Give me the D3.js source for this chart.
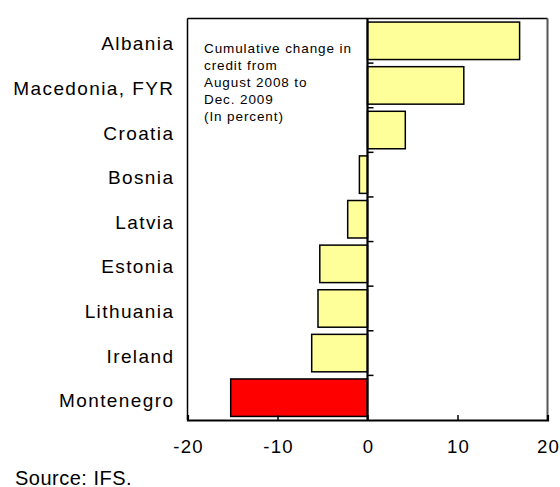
<!DOCTYPE html>
<html><head><meta charset="utf-8">
<script src="https://cdn.jsdelivr.net/npm/d3@7"></script>
<style>body{margin:0;background:#fff}svg{display:block}text{font-family:"Liberation Sans",Arial,sans-serif}</style>
</head><body><svg id="c" width="560" height="487"></svg>
<script>
const categories = ["Albania","Macedonia, FYR","Croatia","Bosnia","Latvia","Estonia","Lithuania","Ireland","Montenegro"];
const values = [16.9, 10.7, 4.2, -0.9, -2.2, -5.3, -5.5, -6.2, -15.2];
const highlight = ["Montenegro"];
const xTicks = [-20, -10, 0, 10, 20];
const noteLines = ["Cumulative change  in","credit from","August 2008  to","Dec. 2009","(In percent)"];
const source = "Source: IFS.";

const svg = d3.select("#c");
const L = 187.5, R = 547.5, T = 18.5, B = 420;
const x = d3.scaleLinear().domain([-20, 20]).range([L, R]);
const y = d3.scaleBand().domain(categories).range([T, B]).paddingInner(0.16).paddingOuter(0.08);

// frame
svg.append("line").attr("x1",L).attr("x2",L).attr("y1",T).attr("y2",B).attr("stroke","#000").attr("stroke-width",1.5);
svg.append("line").attr("x1",L).attr("x2",R).attr("y1",T).attr("y2",T).attr("stroke","#000").attr("stroke-width",1.5);
svg.append("line").attr("x1",R).attr("x2",R).attr("y1",T).attr("y2",B).attr("stroke","#555").attr("stroke-width",2);

// bars
svg.selectAll("rect.bar").data(categories).enter().append("rect")
  .attr("x", (d,i) => x(Math.min(0, values[i])))
  .attr("y", d => y(d))
  .attr("width", (d,i) => Math.abs(x(values[i]) - x(0)))
  .attr("height", y.bandwidth())
  .attr("fill", d => highlight.includes(d) ? "#FF0000" : "#FFFF99")
  .attr("stroke", "#000").attr("stroke-width", 1.5);

// zero line with category ticks
svg.append("line").attr("x1",x(0)).attr("x2",x(0)).attr("y1",T).attr("y2",B).attr("stroke","#000").attr("stroke-width",2.2);
const bounds = d3.range(1, categories.length).map(i => T + (B - T) * i / categories.length);
svg.selectAll("line.ct").data(bounds).enter().append("line")
  .attr("x1", x(0)).attr("x2", x(0) + 6).attr("y1", d => d).attr("y2", d => d)
  .attr("stroke","#000").attr("stroke-width",1.5);

// category labels
svg.selectAll("text.cat").data(categories).enter().append("text")
  .attr("x", 174.4).attr("y", d => y(d) + y.bandwidth()/2 + 9.6)
  .attr("text-anchor","end").attr("letter-spacing", 1.4)
  .attr("font-size", 19).text(d => d);

// bottom axis
const ax = svg.append("g").attr("transform", `translate(0,${B})`)
  .call(d3.axisBottom(x).tickValues(xTicks).tickSize(-5).tickPadding(0).tickFormat(d => String(d)));
ax.select(".domain").attr("stroke","#000").attr("stroke-width",2.2);
ax.selectAll(".tick line").attr("stroke","#000").attr("stroke-width",1.5);
ax.selectAll(".tick text").attr("font-size",18.6).attr("fill","#000").attr("letter-spacing",1.2)
  .attr("font-family","'Liberation Sans',Arial,sans-serif").attr("y", 33).attr("dy", null).attr("dx", 0.6);

// note
const note = svg.append("text").attr("x",204).attr("font-size",13.5).attr("letter-spacing",0.9);
noteLines.forEach((t,i) => note.append("tspan").attr("x",204).attr("y",53.3 + i*17).text(t));

svg.append("text").attr("x",15).attr("y",484.5).attr("font-size",20).attr("letter-spacing",0.5).text(source);
</script></body></html>
